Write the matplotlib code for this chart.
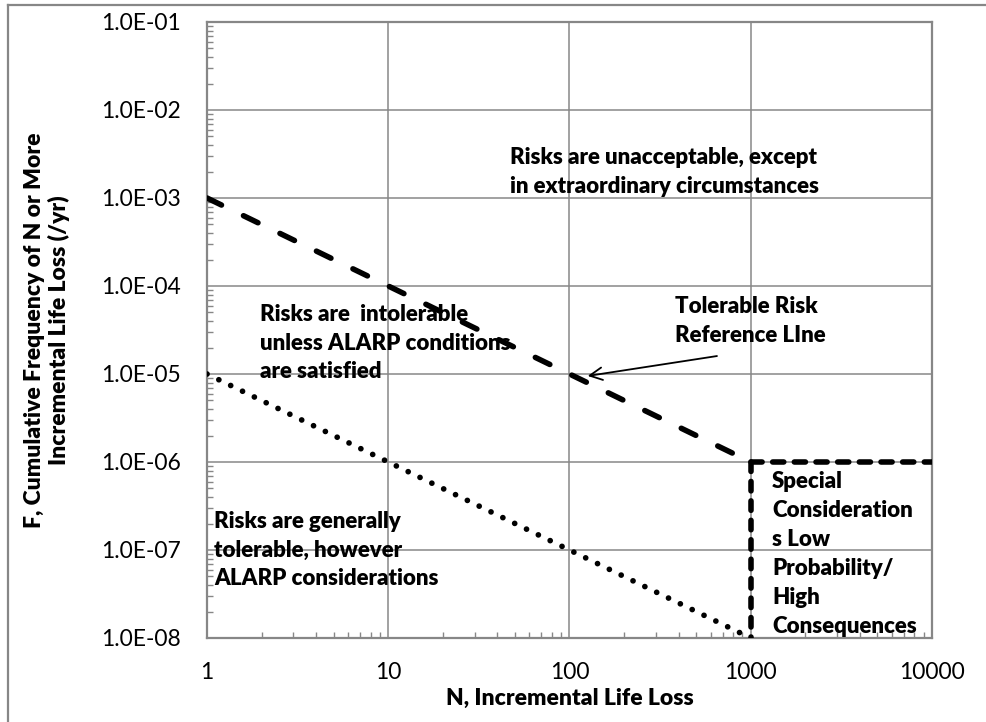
import numpy as np
import matplotlib
matplotlib.use('Agg')
import matplotlib.pyplot as plt
from matplotlib.lines import Line2D
from matplotlib.ticker import FixedLocator, LogLocator, NullFormatter

plt.rcParams['font.family'] = ['Lato', 'DejaVu Sans']

# Criteris F-N: línia de referència i límits
n_ref = [1, 1000]
f_ref = [1e-3, 1e-6]
n_flat = [1000, 10000]
f_flat = [1e-6, 1e-6]
n_vert = [1000, 1000]
f_vert = [1e-6, 1e-8]
n_low = [1, 1000]
f_low = [1e-5, 1e-8]

x_ticks = [1, 10, 100, 1000, 10000]
x_labels = ['1', '10', '100', '1000', '10000']
y_ticks = [1e-8, 1e-7, 1e-6, 1e-5, 1e-4, 1e-3, 1e-2, 1e-1]
y_labels = ['1.0E-08', '1.0E-07', '1.0E-06', '1.0E-05',
            '1.0E-04', '1.0E-03', '1.0E-02', '1.0E-01']

GRAY = '#878787'
FS = 16.5
BOLD = 'heavy'

fig = plt.figure(figsize=(9.87, 7.22), dpi=100)
ax = fig.add_axes([207/987, 84/722, 725/987, 616/722])

ax.set_xscale('log')
ax.set_yscale('log')
ax.set_xlim(1, 10000)
ax.set_ylim(1e-8, 1e-1)

ax.plot(n_ref, f_ref, color='black', lw=4, linestyle=(0, (2.9, 4.4)),
        dash_capstyle='round', zorder=3)
ax.plot(n_flat, f_flat, color='black', lw=4, linestyle=(0, (2.0, 1.9)),
        dash_capstyle='round', zorder=3)
ax.plot(n_vert, f_vert, color='black', lw=4, linestyle=(0, (1.7, 1.8)),
        dash_capstyle='round', zorder=3)
ax.plot(n_low, f_low, color='black', lw=4.1, linestyle=(0, (0.01, 2.3)),
        dash_capstyle='round', zorder=3)

# eixos i graella
ax.xaxis.set_major_locator(FixedLocator(x_ticks))
ax.set_xticklabels(x_labels)
ax.yaxis.set_major_locator(FixedLocator(y_ticks))
ax.set_yticklabels(y_labels)
ax.xaxis.set_minor_locator(LogLocator(base=10, subs=np.arange(2, 10), numticks=20))
ax.yaxis.set_minor_locator(LogLocator(base=10, subs=np.arange(2, 10), numticks=20))
ax.xaxis.set_minor_formatter(NullFormatter())
ax.yaxis.set_minor_formatter(NullFormatter())
ax.tick_params(which='major', length=0, labelsize=FS, colors='black')
ax.tick_params(axis='y', which='major', pad=19)
ax.tick_params(axis='x', which='major', pad=17)
ax.tick_params(which='minor', direction='in', length=4, width=1, color=GRAY,
               top=False, right=False)
ax.grid(True, which='major', color=GRAY, lw=1.1)
for s in ax.spines.values():
    s.set_color(GRAY)
    s.set_linewidth(1.6)

ax.set_xlabel('N, Incremental Life Loss', fontsize=FS, fontweight=BOLD, labelpad=4)
ax.set_ylabel('F, Cumulative Frequency of N or More\nIncremental Life Loss (/yr)',
              fontsize=FS, fontweight=BOLD, labelpad=22, linespacing=1.15)

tkw = dict(fontsize=16, fontweight=BOLD, ha='left', va='center',
           linespacing=1.47, zorder=4)
ax.text(47, 2.0e-3, 'Risks are unacceptable, except\nin extraordinary circumstances', **tkw)
ax.text(1.96, 2.25e-5, 'Risks are  intolerable\nunless ALARP conditions\nare satisfied', **tkw)
ax.text(382, 4.0e-5, 'Tolerable Risk\nReference LIne', **tkw)
ax.text(1.093, 1.0e-7, 'Risks are generally\ntolerable, however\nALARP considerations', **tkw)
ax.text(1310, 9.0e-8, 'Special\nConsideration\ns Low\nProbability/\nHigh\nConsequences', **tkw)

ax.annotate('', xy=(126, 9.5e-6), xytext=(651, 1.6e-5),
            arrowprops=dict(arrowstyle='->,head_length=0.9,head_width=0.45',
                            color='black', lw=1.3, shrinkA=0, shrinkB=0), zorder=5)

# vora exterior
fig.add_artist(Line2D([8/987, 8/987], [0, 1 - 5/722], color=GRAY, lw=1.6))
fig.add_artist(Line2D([8/987, 985/987], [1 - 5/722, 1 - 5/722], color=GRAY, lw=1.6))

fig.savefig('out.png', dpi=100)
